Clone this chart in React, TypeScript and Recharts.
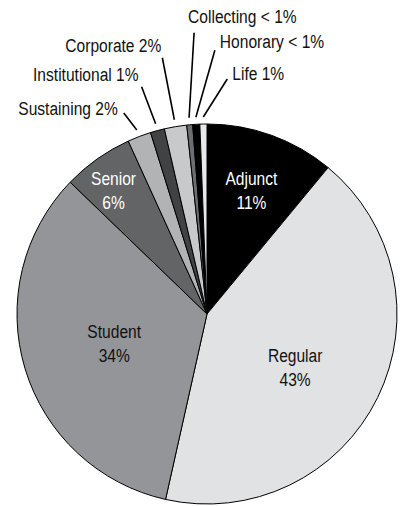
import { PieChart, Pie, Cell } from "recharts";

// ── Data ──
const categories = [
  "Adjunct",
  "Regular",
  "Student",
  "Senior",
  "Sustaining",
  "Institutional",
  "Corporate",
  "Collecting",
  "Honorary",
  "Life",
];
const shares = [11, 42.5, 33.7, 6, 2, 1.2, 1.9, 0.5, 0.6, 0.6];
const shareLabels = ["11%", "43%", "34%", "6%", "2%", "1%", "2%", "< 1%", "< 1%", "1%"];

const data = categories.map((name, i) => ({ name, value: shares[i], pct: shareLabels[i] }));

// ── Styling ──
const FILLS: Record<string, string> = {
  Adjunct: "#000000",
  Regular: "#e1e2e4",
  Student: "#939598",
  Senior: "#636466",
  Sustaining: "#b1b3b5",
  Institutional: "#414244",
  Corporate: "#c8c9cb",
  Collecting: "#6d6e71",
  Honorary: "#000000",
  Life: "#e8e9ea",
};

// no narrow face installed -> squeeze Liberation Sans horizontally
const FONT = "'Liberation Sans', Arial, sans-serif";
const SQUEEZE = 0.82;

// inside labels: radius factor, small nudge, text colour
const INSIDE: Record<string, { k: number; nx: number; ny: number; color: string }> = {
  Adjunct: { k: 0.69, nx: 0, ny: 0, color: "#ffffff" },
  Regular: { k: 0.54, nx: -4, ny: 8, color: "#111111" },
  Student: { k: 0.51, nx: 0, ny: 2, color: "#111111" },
  Senior: { k: 0.815, nx: -4, ny: 3, color: "#ffffff" },
};

// outside labels: leader line vector, text offset from line end, anchor
const LEADER: Record<string, { dx: number; dy: number; tx: number; ty: number; anchor: "start" | "end" }> = {
  Sustaining: { dx: -13, dy: -17, tx: -6, ty: -4, anchor: "end" },
  Institutional: { dx: -14, dy: -37, tx: -3, ty: -12, anchor: "end" },
  Corporate: { dx: -12, dy: -62, tx: -1, ty: -12, anchor: "end" },
  Collecting: { dx: 5, dy: -85, tx: -6, ty: -16, anchor: "start" },
  Honorary: { dx: 19, dy: -67, tx: 5, ty: -9, anchor: "start" },
  Life: { dx: 24, dy: -38, tx: 5, ty: -6, anchor: "start" },
};

const RAD = Math.PI / 180;

function NarrowText({ x, y, anchor, color, lines }: { x: number; y: number; anchor: string; color: string; lines: string[] }) {
  const gap = 24;
  const top = -((lines.length - 1) * gap) / 2;
  return (
    <g transform={`translate(${x},${y}) scale(${SQUEEZE},1)`}>
      <text fill={color} fontFamily={FONT} fontSize={19} textAnchor={anchor as any} dominantBaseline="central">
        {lines.map((t, i) => (
          <tspan key={i} x={0} y={top + i * gap}>
            {t}
          </tspan>
        ))}
      </text>
    </g>
  );
}

function renderLabel(props: any) {
  const { cx, cy, midAngle, outerRadius, name, payload } = props;
  const pct = payload?.pct ?? props.pct;
  const cos = Math.cos(-midAngle * RAD);
  const sin = Math.sin(-midAngle * RAD);

  const inside = INSIDE[name];
  if (inside) {
    const r = outerRadius * inside.k;
    return (
      <NarrowText
        key={name}
        x={cx + r * cos + inside.nx}
        y={cy + r * sin + inside.ny}
        anchor="middle"
        color={inside.color}
        lines={[name, pct]}
      />
    );
  }

  const lead = LEADER[name];
  if (!lead) return null;
  const r0 = outerRadius + 7;
  const x0 = cx + r0 * cos;
  const y0 = cy + r0 * sin;
  const x1 = x0 + lead.dx;
  const y1 = y0 + lead.dy;
  return (
    <g key={name}>
      <line x1={x0} y1={y0} x2={x1} y2={y1} stroke="#000" strokeWidth={1.6} />
      <NarrowText
        x={x1 + lead.tx}
        y={y1 + lead.ty}
        anchor={lead.anchor}
        color="#111"
        lines={[`${name} ${pct}`]}
      />
    </g>
  );
}

export default function App() {
  return (
    <div style={{ position: "absolute", left: 0, top: 0, width: 402, height: 506, background: "#fff" }}>
      <PieChart width={402} height={506} margin={{ top: 0, right: 0, bottom: 0, left: 0 }}>
        <Pie
          data={data}
          dataKey="value"
          nameKey="name"
          cx={207}
          cy={314}
          outerRadius={190}
          startAngle={90}
          endAngle={-270}
          stroke="#000"
          strokeWidth={1}
          label={renderLabel}
          labelLine={false}
          isAnimationActive={false}
        >
          {data.map((entry) => (
            <Cell key={entry.name} fill={FILLS[entry.name]} />
          ))}
        </Pie>
      </PieChart>
    </div>
  );
}
